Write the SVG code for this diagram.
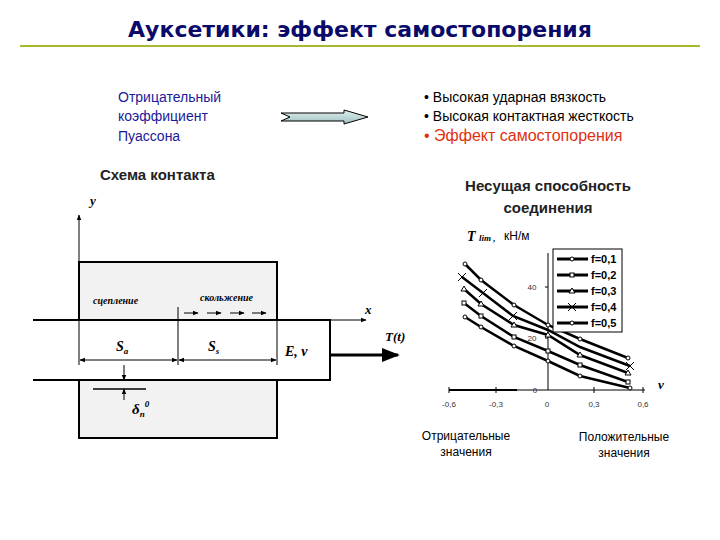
<svg xmlns="http://www.w3.org/2000/svg" width="720" height="540" viewBox="0 0 720 540">
<style>
.s{font-family:"Liberation Sans",Arial,sans-serif}
.t{font-family:"Liberation Serif","Times New Roman",serif;font-style:italic;font-weight:bold}
.ln{stroke:#000;stroke-width:1;fill:none}
.cv{stroke:#000;stroke-width:2.5;fill:none}
.mk{fill:#fff;stroke:#000;stroke-width:1}
</style>
<defs>
<marker id="a" viewBox="0 0 10 10" refX="9" refY="5" markerWidth="6" markerHeight="6" orient="auto-start-reverse"><path d="M0,1 L10,5 L0,9 z" fill="#000"/></marker>
<linearGradient id="g" x1="0" y1="0" x2="0" y2="1"><stop offset="0" stop-color="#e0f0f0"/><stop offset="1" stop-color="#9fbfbf"/></linearGradient>
</defs>
<rect width="720" height="540" fill="#fff"/>
<g id="title">
<text x="360" y="37" text-anchor="middle" class="s" font-size="22" font-weight="bold" fill="#0a0a6a" style="font-family:'DejaVu Sans',sans-serif">Ауксетики: эффект самостопорения</text>
<line x1="20" y1="46" x2="700" y2="46" stroke="#a8b830" stroke-width="2"/>
</g>
<g id="cause" class="s" font-size="14" fill="#1a1a9a">
<text x="118" y="102">Отрицательный</text><text x="118" y="121">коэффициент</text><text x="118" y="141">Пуассона</text>
</g>
<g id="bigarrow"><path d="M281,113 L344,113 L344,110 L368,117 L344,124 L344,121 L281,121 L290,117 z" fill="url(#g)" stroke="#000"/></g>
<g id="effects" class="s" font-size="14">
<text x="424" y="102">• Высокая ударная вязкость</text>
<text x="424" y="121">• Высокая контактная жесткость</text>
<text x="424" y="141" font-size="16" fill="#e03010">• Эффект самостопорения</text>
</g>
<g id="heads" class="s" font-size="15" font-weight="bold" fill="#222">
<text x="100" y="180" style="font-weight:bold">Схема контакта</text>
<text x="548" y="191" text-anchor="middle">Несущая способность</text>
<text x="548" y="213" text-anchor="middle">соединения</text>
</g>
<g id="contact">
<rect x="79" y="262" width="198" height="58" fill="#f2f2f2" stroke="#000" stroke-width="2"/>
<rect x="79" y="380" width="198" height="58" fill="#f2f2f2" stroke="#000" stroke-width="2"/>
<path d="M33,320 L330,320 L330,380 L33,380" fill="#fff" stroke="#000" stroke-width="2"/>
<line x1="79" y1="262" x2="79" y2="215" class="ln" marker-end="url(#a)"/>
<line x1="277" y1="320" x2="366" y2="320" class="ln" marker-end="url(#a)"/>
<line x1="178" y1="307" x2="178" y2="365" class="ln"/>
<line x1="79" y1="320" x2="79" y2="365" class="ln"/>
<line x1="277" y1="320" x2="277" y2="365" class="ln"/>
<line x1="80" y1="360" x2="177" y2="360" class="ln" marker-start="url(#a)" marker-end="url(#a)"/>
<line x1="179" y1="360" x2="276" y2="360" class="ln" marker-start="url(#a)" marker-end="url(#a)"/>
<line x1="330" y1="355" x2="398" y2="355" stroke="#000" stroke-width="3" marker-end="url(#a)"/>
<line x1="124" y1="365" x2="124" y2="380" class="ln" marker-end="url(#a)"/>
<line x1="124" y1="400" x2="124" y2="389" class="ln" marker-end="url(#a)"/>
<line x1="93" y1="389" x2="146" y2="389" stroke="#000" stroke-width="1.5"/>
<g class="ln"><line x1="184" y1="313" x2="198" y2="313" marker-end="url(#a)"/><line x1="207" y1="313" x2="221" y2="313" marker-end="url(#a)"/><line x1="230" y1="313" x2="244" y2="313" marker-end="url(#a)"/><line x1="252" y1="313" x2="266" y2="313" marker-end="url(#a)"/></g>
<g class="t" font-size="13">
<text x="90" y="205">y</text>
<text x="365" y="314">x</text>
<text x="93" y="304" font-size="10">сцепление</text>
<text x="200" y="301" font-size="10">скольжение</text>
<text x="116" y="351" font-size="14">S<tspan font-size="9" dy="3">a</tspan></text>
<text x="208" y="351" font-size="14">S<tspan font-size="9" dy="3">s</tspan></text>
<text x="285" y="356" font-size="14">E, ν</text>
<text x="385" y="341" font-size="13">T(t)</text>
<text x="132" y="414" font-size="15">δ<tspan font-size="9" dy="3">n</tspan><tspan font-size="9" dy="-10">0</tspan></text>
</g>
</g>
<g id="chart">
<text x="467" y="241" class="t" font-size="14">T <tspan font-size="9">lim ,</tspan></text>
<text x="504" y="240" class="s" font-size="12">кН/м</text>
<line x1="548" y1="253" x2="548" y2="390" class="ln"/>
<line x1="449" y1="390" x2="645" y2="390" class="ln"/>
<line x1="449" y1="390" x2="517" y2="390" stroke="#000" stroke-width="2"/>
<g class="ln"><line x1="449" y1="387" x2="449" y2="393"/><line x1="496" y1="387" x2="496" y2="393"/><line x1="594" y1="387" x2="594" y2="393"/><line x1="643" y1="387" x2="643" y2="393"/><line x1="545" y1="287" x2="548" y2="287"/><line x1="545" y1="338" x2="548" y2="338"/></g>
<g class="s" font-size="8" fill="#333" text-anchor="middle">
<text x="449" y="407">-0,6</text><text x="496" y="407">-0,3</text><text x="547" y="407">0</text><text x="594" y="407">0,3</text><text x="643" y="407">0,6</text>
<text x="535" y="393">0</text><text x="532" y="290">40</text><text x="532" y="341">20</text>
</g>
<text x="658" y="389" class="t" font-size="13">ν</text>
<path class="cv" d="M465,264 L481,280 L514,305 L548,325 L580,339 L628,358"/>
<path class="cv" d="M462,277 L483,293 L513,316 L548,330 L580,347 L630,366"/>
<path class="cv" d="M464,289 L481,304 L514,325 L548,335 L580,355 L628,373"/>
<path class="cv" d="M464,303 L481,316 L514,337 L548,351 L580,365 L628,382"/>
<path class="cv" d="M465,317 L481,327 L514,346 L548,361 L580,376 L630,388"/>
<g class="mk">
<circle cx="465" cy="264" r="2"/><circle cx="481" cy="280" r="2"/><circle cx="514" cy="305" r="2"/><circle cx="548" cy="325" r="2"/><circle cx="580" cy="339" r="2"/><circle cx="628" cy="358" r="2"/>
<circle cx="465" cy="317" r="2"/><circle cx="481" cy="327" r="2"/><circle cx="514" cy="346" r="2"/><circle cx="548" cy="361" r="2"/><circle cx="580" cy="376" r="2"/><circle cx="630" cy="388" r="2"/>
<rect x="462" y="301" width="4" height="4"/><rect x="479" y="314" width="4" height="4"/><rect x="512" y="335" width="4" height="4"/><rect x="546" y="349" width="4" height="4"/><rect x="578" y="363" width="4" height="4"/><rect x="626" y="380" width="4" height="4"/>
<path d="M464,286 l3,5 h-6z M481,301 l3,5 h-6z M514,322 l3,5 h-6z M548,332 l3,5 h-6z M580,352 l3,5 h-6z M628,370 l3,5 h-6z"/>
</g>
<path d="M458,273 l8,8 m0,-8 l-8,8 M479,289 l8,8 m0,-8 l-8,8 M509,312 l8,8 m0,-8 l-8,8 M626,362 l8,8 m0,-8 l-8,8" class="ln"/>
<rect x="553" y="249" width="69" height="83" fill="#fff" stroke="#000"/>
<g stroke="#000" stroke-width="3"><line x1="557" y1="259" x2="588" y2="259"/><line x1="557" y1="275" x2="588" y2="275"/><line x1="557" y1="291" x2="588" y2="291"/><line x1="557" y1="307" x2="588" y2="307"/><line x1="557" y1="323" x2="588" y2="323"/></g>
<g class="mk"><circle cx="572" cy="259" r="2"/><rect x="570" y="273" width="4" height="4"/><path d="M572,288 l3,5 h-6z"/><circle cx="572" cy="323" r="2"/></g>
<path d="M568,303 l8,8 m0,-8 l-8,8" class="ln"/>
<g class="s" font-size="11" font-weight="bold"><text x="591" y="263">f=0,1</text><text x="591" y="279">f=0,2</text><text x="591" y="295">f=0,3</text><text x="591" y="311">f=0,4</text><text x="591" y="327">f=0,5</text></g>
<g class="s" font-size="12" text-anchor="middle"><text x="466" y="440">Отрицательные</text><text x="466" y="456">значения</text><text x="624" y="441">Положительные</text><text x="624" y="457">значения</text></g>
</g>
</svg>
